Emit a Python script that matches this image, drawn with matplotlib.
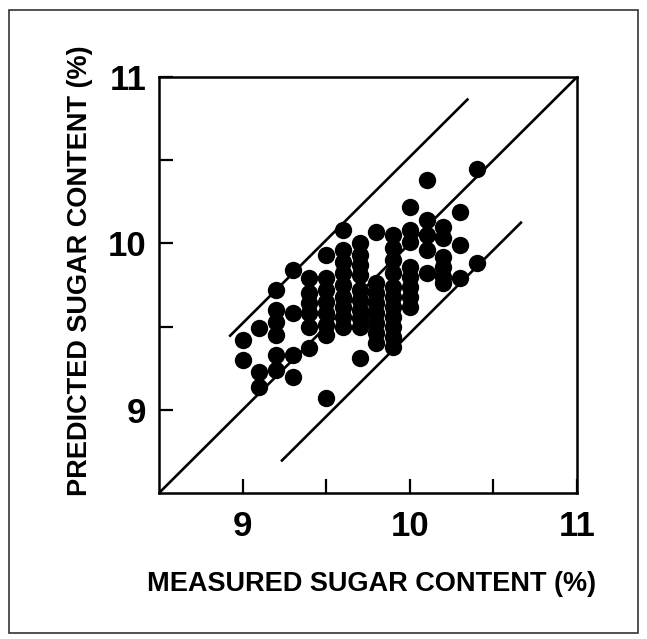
import numpy as np
import matplotlib
matplotlib.use("Agg")
import matplotlib.pyplot as plt
from matplotlib.patches import Rectangle

plt.rcParams['font.family'] = ['Liberation Sans', 'DejaVu Sans']
plt.rcParams['font.weight'] = 'bold'

# measured sugar content columns (%) and predicted values in each column
measured_cols = [9.0, 9.1, 9.2, 9.3, 9.4, 9.5, 9.6, 9.7, 9.8, 9.9, 10.0, 10.1, 10.2, 10.3, 10.4]
predicted_cols = [
    [9.42, 9.30],
    [9.49, 9.23, 9.14],
    [9.72, 9.60, 9.53, 9.45, 9.33, 9.24],
    [9.84, 9.58, 9.33, 9.20],
    [9.79, 9.70, 9.64, 9.58, 9.50, 9.37],
    [9.93, 9.79, 9.72, 9.65, 9.58, 9.51, 9.45, 9.07],
    [10.08, 9.96, 9.89, 9.82, 9.75, 9.68, 9.62, 9.56, 9.50],
    [10.00, 9.93, 9.87, 9.81, 9.72, 9.66, 9.60, 9.55, 9.50, 9.31],
    [10.07, 9.76, 9.70, 9.64, 9.58, 9.52, 9.46, 9.40],
    [10.05, 9.97, 9.90, 9.82, 9.74, 9.68, 9.62, 9.56, 9.50, 9.44, 9.38],
    [10.22, 10.08, 10.01, 9.86, 9.80, 9.74, 9.68, 9.62],
    [10.38, 10.14, 10.05, 9.96, 9.82],
    [10.10, 10.03, 9.92, 9.86, 9.80, 9.76],
    [10.19, 9.99, 9.79],
    [10.45, 9.88],
]

# reference lines: y = x + offset, drawn over x range
line_offsets = [0.0, 0.52, -0.54]
line_xstart = [8.5, 8.92, 9.23]
line_xend = [11.0, 10.35, 10.67]

tick_vals = [9.0, 9.5, 10.0, 10.5, 11.0]
tick_labels = ['9', '', '10', '', '11']

measured = np.concatenate([[m] * len(p) for m, p in zip(measured_cols, predicted_cols)])
predicted = np.concatenate(predicted_cols)

fig = plt.figure(figsize=(6.47, 6.39), dpi=100)
ax = fig.add_axes([159 / 647, 1 - 493 / 639, 418 / 647, 416 / 639])

for off, x0, x1 in zip(line_offsets, line_xstart, line_xend):
    xs = np.array([x0, x1])
    ax.plot(xs, xs + off, color='black', lw=1.9, solid_capstyle='butt')

ax.plot(measured, predicted, 'o', color='black', markersize=12.5, markeredgewidth=0)

ax.set_xlim(8.5, 11)
ax.set_ylim(8.5, 11)
ax.set_xticks(tick_vals)
ax.set_xticklabels(tick_labels)
ax.set_yticks(tick_vals)
ax.set_yticklabels(tick_labels)
ax.tick_params(axis='x', direction='in', length=10, width=1.6, pad=12, labelsize=25)
ax.tick_params(axis='y', direction='in', length=10, width=1.6, pad=9, labelsize=25)
for s in ax.spines.values():
    s.set_linewidth(1.8)

ax.set_xlabel('MEASURED SUGAR CONTENT (%)', fontsize=19.5, fontweight='bold', va='baseline')
ax.xaxis.set_label_coords(0.508, -0.235)
ax.set_ylabel('PREDICTED SUGAR CONTENT (%)', fontsize=19.5, fontweight='bold', va='baseline')
ax.yaxis.set_label_coords(-0.172, 0.535)

fig.add_artist(Rectangle((8.5 / 647, 1 - 633 / 639), (638 - 8.5) / 647, (633 - 10) / 639,
                         transform=fig.transFigure, fill=False, ec='#333333', lw=1.2))

fig.savefig('out.png', dpi=100)
